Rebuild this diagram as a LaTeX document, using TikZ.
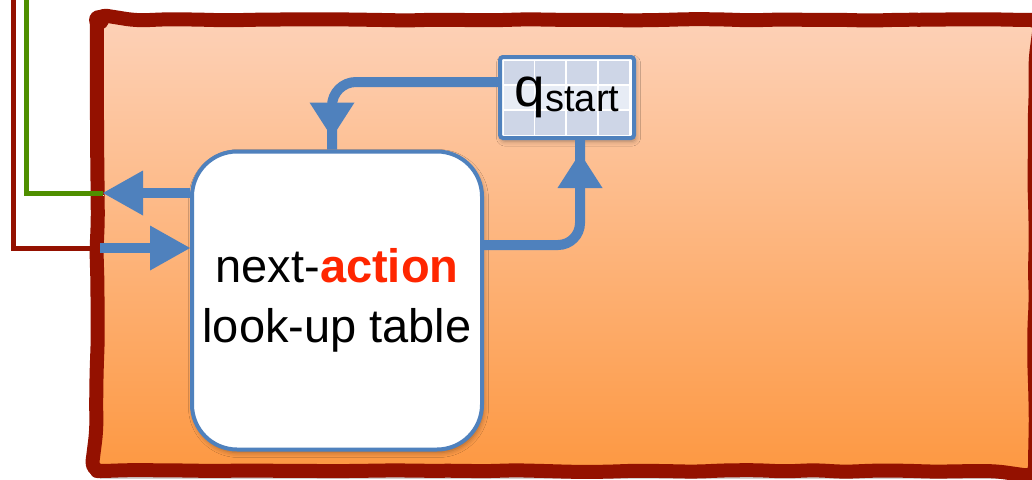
\documentclass[tikz,border=0pt]{standalone}
\usepackage{fontspec}
\setmainfont{Liberation Sans}
\usetikzlibrary{arrows.meta,decorations.markings,decorations.pathmorphing,shadows.blur}

\definecolor{flowblue}{RGB}{79,129,189}
\definecolor{framered}{RGB}{148,17,0}
\definecolor{wiregreen}{RGB}{79,143,0}
\definecolor{hotred}{RGB}{255,38,0}
\definecolor{peachtop}{RGB}{253,209,183}
\definecolor{peachbot}{RGB}{253,152,66}
\definecolor{celldark}{RGB}{206,214,231}
\definecolor{celllight}{RGB}{231,236,245}

\begin{document}
\begin{tikzpicture}[x=1pt,y=-1pt,
  flow/.style={draw=flowblue, line width=10pt},
  endhead/.style={-{Triangle[length=40pt,width=45pt,line width=0pt]}},
  midhead/.style={postaction={decorate,decoration={markings,
      mark=at position #1 with {\arrow[flowblue]{Triangle[length=35pt,width=45pt,line width=0pt]}}}}},
  wire/.style={line width=5pt,
      preaction={draw=black!12, transform canvas={xshift=1pt,yshift=-2pt}}},
  boxshadow/.style={blur shadow={shadow xshift=1.5pt,shadow yshift=-3pt,
      shadow blur radius=5pt,shadow opacity=35}},
  tablebox/.style={draw=flowblue, line width=4pt, fill=white, rounded corners=45pt,
      minimum width=290pt, minimum height=298pt, inner sep=0pt, align=center,
      font=\fontsize{47}{60}\selectfont, boxshadow},
  statebox/.style={draw=flowblue, line width=4pt, rounded corners=3pt,
      minimum width=134pt, minimum height=81pt, inner sep=0pt},
]
\useasboundingbox (0,0) rectangle (1032,479);

% hand-drawn frame with its orange gradient
\coordinate (fNW) at (97,20);
\coordinate (fSE) at (1035,471);
\coordinate (fTop) at (560,20);
\fill[black!18] (100,474) rectangle (1032,479);
\fill[top color=peachtop, bottom color=peachbot] (fNW) rectangle (fSE);
\pgfmathsetseed{7}
\draw[framered, line width=14pt, line join=round, decorate,
      decoration={random steps,segment length=30pt,amplitude=0.9pt}, rounded corners=10pt]
  (fTop) -- (fNW -| fSE) -- (fSE) -- (fNW |- fSE) -- (fNW) -- cycle;
\fill[framered] (99,20) circle (10pt);

% wires entering from above
\coordinate (gTop) at (26,0);
\coordinate (gEnd) at (103,193);
\coordinate (rTop) at (13,0);
\coordinate (rEnd) at (100,248);
\draw[wire, wiregreen] (gTop) |- (gEnd);
\draw[wire, framered] (rTop) |- (rEnd);

% look-up table box
\node[tablebox] (lut) at (337,300.5) {next-{\bfseries\color{hotred}action}\\look-up table};

% start-state table: white card with a 4x3 grid of cells, then its outline and label
\begin{scope}[shift={(567,97.5)}]
  \fill[white, rounded corners=3pt, boxshadow] (-67,-40.5) rectangle (67,40.5);
  \foreach \r/\cc in {0/celldark,1/celllight,2/celldark}
    \foreach \c in {0,...,3}
      \fill[\cc] (-63.5+\c*31.9, -37+\r*25.3) rectangle +(30, 23.5);
\end{scope}
\node[statebox] (qs) at (567,97.5)
  {{\fontsize{55}{55}\selectfont q}\raisebox{-5pt}{\fontsize{38}{38}\selectfont start}};

% arrows
\draw[flow, endhead] (lut.west |- gEnd) -- (gEnd);
\draw[flow, endhead] (rEnd) -- (lut.west |- rEnd);
\draw[flow, rounded corners=24pt, midhead=-12pt] (qs.west |- 0,82) -| (lut.north -| 332,0);
\draw[flow, rounded corners=22pt, midhead=-13pt] (lut.east |- 0,245) -| (qs.south -| 580,0);
\end{tikzpicture}
\end{document}
